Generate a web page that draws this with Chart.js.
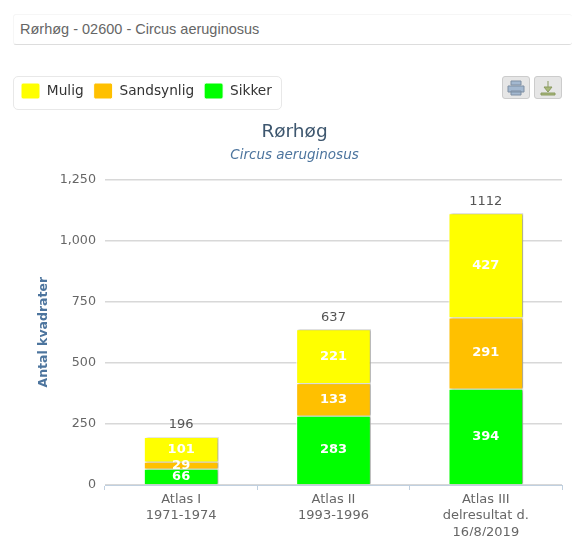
<!DOCTYPE html>
<html>
<head>
<meta charset="utf-8">
<script src="https://cdn.jsdelivr.net/npm/chart.js@4"></script>
<style>
  html, body { margin: 0; background: #fff; overflow: hidden; }
  #wrap { position: relative; width: 572px; height: 536px; }
  #header { position: absolute; left: 13px; top: 14px; width: 559px; height: 31px; box-sizing: border-box;
    border-bottom: 1px solid #ddd; border-top: 1px solid #f6f6f6; border-left: 1px solid #f6f6f6; border-radius: 3px;
    font: 14.5px "Liberation Sans", sans-serif; color: #666; line-height: 28px; padding-left: 6px; }
  #legendBox { position: absolute; left: 13px; top: 76px; width: 269px; height: 34px; box-sizing: border-box;
    border: 1px solid #e8e8e8; border-radius: 5px; }
  .btn { position: absolute; top: 76px; width: 28px; height: 23px; box-sizing: border-box; border: 1px solid #ccc;
    border-radius: 3px; background: #e6e6e6; }
  .btn svg { display: block; margin: 2px auto; }
  canvas { position: absolute; left: 0; top: 0; }
</style>
</head>
<body>
<div id="wrap">
  <div id="header">Rørhøg - 02600 - Circus aeruginosus</div>
  <div id="legendBox"></div>
  <div class="btn" style="left:502px"><svg width="20" height="17"><path d="M5 2h10v4H5zM2 7h16v6H2zM5 12h10v4H5z" fill="#a3b8d0" stroke="#7f8fa3"/></svg></div>
  <div class="btn" style="left:534px"><svg width="20" height="17"><path d="M10 2v6M6 8h8l-4 5zM3 14h14v2H3z" fill="#a8b878" stroke="#8a9a60"/></svg></div>
  <canvas id="myChart" width="572" height="536"></canvas>
</div>
<script>
const categories = [['Atlas I', '1971-1974'], ['Atlas II', '1993-1996'], ['Atlas III', 'delresultat d.', '16/8/2019']]
const sikker = [66, 283, 394]
const sandsynlig = [29, 133, 291]
const mulig = [101, 221, 427]
const totals = [196, 637, 1112]
const yTicks = [0, 250, 500, 750, 1000, 1250]

const font = 'DejaVu Sans'

// Highcharts style drop shadow on the bars
const barShadow = {
  id: 'barShadow',
  beforeDatasetDraw(chart) {
    const ctx = chart.ctx
    ctx.save()
    ctx.shadowColor = 'rgba(0,0,0,0.35)'
    ctx.shadowBlur = 2
    ctx.shadowOffsetX = 2
    ctx.shadowOffsetY = 0
  },
  afterDatasetDraw(chart) {
    chart.ctx.restore()
  },
}

// left padding is there to centre the titles, the legend stays further left
const legendLeft = {
  id: 'legendLeft',
  afterLayout(chart) {
    chart.legend.left = 11
  },
}

// value inside each segment and the total above each stack
const barLabels = {
  id: 'barLabels',
  afterDatasetsDraw(chart) {
    const ctx = chart.ctx
    ctx.save()
    ctx.textAlign = 'center'
    ctx.textBaseline = 'middle'
    ctx.font = 'bold 13px "' + font + '"'
    ctx.fillStyle = '#fff'
    chart.data.datasets.forEach((ds, i) => {
      chart.getDatasetMeta(i).data.forEach((bar, j) => {
        ctx.fillText(ds.data[j], bar.x, (bar.y + bar.base) / 2)
      })
    })
    ctx.font = '13px "' + font + '"'
    ctx.fillStyle = '#555'
    const top = chart.getDatasetMeta(2).data
    totals.forEach((t, j) => {
      ctx.fillText(t, top[j].x, chart.scales.y.getPixelForValue(t) - 12)
    })
    ctx.restore()
  },
}

const data = {
  labels: categories,
  datasets: [
    { label: 'Sikker', data: sikker, backgroundColor: '#00ff00' },
    { label: 'Sandsynlig', data: sandsynlig, backgroundColor: '#ffc000' },
    { label: 'Mulig', data: mulig, backgroundColor: '#ffff00' },
  ],
}
data.datasets.forEach(ds => {
  ds.borderColor = '#fff'
  ds.borderWidth = 1
  ds.categoryPercentage = 1
  ds.barPercentage = 0.49
})

const config = {
  type: 'bar',
  data: data,
  plugins: [barShadow, legendLeft, barLabels],
  options: {
    responsive: false,
    animation: false,
    locale: 'en-US',
    layout: {
      padding: { left: 27, right: 10, top: 73, bottom: 0 },
    },
    scales: {
      x: {
        stacked: true,
        afterFit(axis) {
          axis.height = 51
        },
        border: { color: '#c0d0e0', width: 1 },
        grid: { drawOnChartArea: false, drawTicks: true, tickLength: 5, color: '#c0d0e0' },
        ticks: { color: '#666', font: { family: font, size: 13, lineHeight: 1.27 }, padding: 1, maxRotation: 0, autoSkip: false },
      },
      y: {
        stacked: true,
        min: 0,
        max: 1250,
        afterBuildTicks(axis) {
          axis.ticks = yTicks.map(v => ({ value: v }))
        },
        afterFit(axis) {
          axis.width = 78
        },
        border: { display: false },
        grid: { color: '#d8d8d8', lineWidth: 1.5, drawTicks: false },
        ticks: { color: '#666', font: { family: font, size: 12.7 }, padding: 9 },
        title: {
          display: true,
          text: 'Antal kvadrater',
          color: '#4d759e',
          font: { family: font, size: 12.5, weight: 'bold' },
          padding: { top: 9, bottom: 0 },
        },
      },
    },
    plugins: {
      legend: {
        weight: 3000,
        position: 'top',
        align: 'start',
        reverse: true,
        labels: {
          boxWidth: 19,
          boxHeight: 16,
          padding: 10,
          useBorderRadius: true,
          borderRadius: 2,
          color: '#333',
          font: { family: font, size: 13.7 },
        },
      },
      title: {
        display: true,
        text: 'Rørhøg',
        color: '#3e576f',
        font: { family: font, size: 18.5, weight: 'normal' },
        padding: { top: 12, bottom: 4 },
      },
      subtitle: {
        display: true,
        text: 'Circus aeruginosus',
        color: '#4d759e',
        font: { family: font, size: 13.5, style: 'italic', weight: 'normal' },
        padding: { top: 0, bottom: 16 },
      },
      tooltip: { enabled: false },
    },
  },
}

const chart = new Chart(document.getElementById('myChart'), config)
</script>
</body>
</html>
